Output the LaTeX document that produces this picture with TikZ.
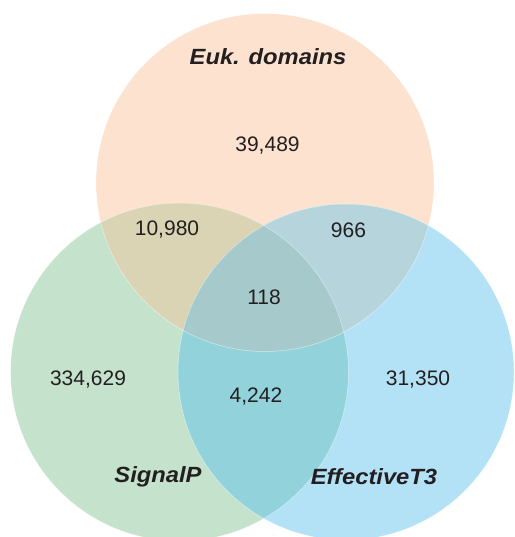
\documentclass[tikz,border=0pt]{standalone}
\usepackage{fontspec}
\setmainfont{Liberation Sans}
\newfontfamily\labelfont[FakeStretch=1.08]{Liberation Sans}
\definecolor{cEuk}{HTML}{FDE2D0}
\definecolor{cSig}{HTML}{C5E2CC}
\definecolor{cEff}{HTML}{B3E1F6}
\definecolor{cES}{HTML}{DAD4B4}
\definecolor{cEE}{HTML}{B6D4DC}
\definecolor{cSE}{HTML}{92D3DB}
\definecolor{cAll}{HTML}{A6CACB}
\definecolor{ink}{HTML}{231F20}
\newcommand\EukPath{(265pt,-182.5pt) circle [radius=169pt]}
\newcommand\SigPath{(179.5pt,-372pt) circle [radius=169pt]}
\newcommand\EffPath{(346pt,-372pt) circle [radius=168pt]}
\tikzset{
  num/.style={text=ink, font=\fontsize{21}{25}\selectfont, inner sep=0pt},
  setlabel/.style={text=ink, font=\labelfont\fontsize{22}{26}\selectfont\bfseries\itshape, inner sep=0pt},
  seam/.style={draw=white, line width=0.5pt, opacity=0.55}
}
\begin{document}
\begin{tikzpicture}
\useasboundingbox (0pt,0pt) rectangle (514pt,-537pt);
\clip (0pt,0pt) rectangle (514pt,-537pt);
% base sets
\fill[cEuk] \EukPath;
\fill[cSig] \SigPath;
\fill[cEff] \EffPath;
% pairwise overlaps
\begin{scope}\clip \EukPath; \fill[cES] \SigPath; \end{scope}
\begin{scope}\clip \EukPath; \fill[cEE] \EffPath; \end{scope}
\begin{scope}\clip \SigPath; \fill[cSE] \EffPath; \end{scope}
% triple overlap
\begin{scope}\clip \EukPath; \clip \SigPath; \fill[cAll] \EffPath; \end{scope}
% faint seams
\path[seam] \EukPath;
\path[seam] \SigPath;
\path[seam] \EffPath;
% labels
\node[setlabel] (euk) at (268pt,-57pt) {Euk. domains};
\node[setlabel] (sig) at (158pt,-477pt) {SignalP};
\node[setlabel] (eff) at (374pt,-477pt) {EffectiveT3};
% counts
\node[num] (n1) at (267.5pt,-146pt) {39,489};
\node[num] (n2) at (167pt,-230pt) {10,980};
\node[num] (n3) at (348.5pt,-230pt) {966};
\node[num] (n4) at (264pt,-297pt) {118};
\node[num] (n5) at (88pt,-380pt) {334,629};
\node[num] (n6) at (256pt,-397pt) {4,242};
\node[num] (n7) at (418pt,-380pt) {31,350};
\end{tikzpicture}
\end{document}
